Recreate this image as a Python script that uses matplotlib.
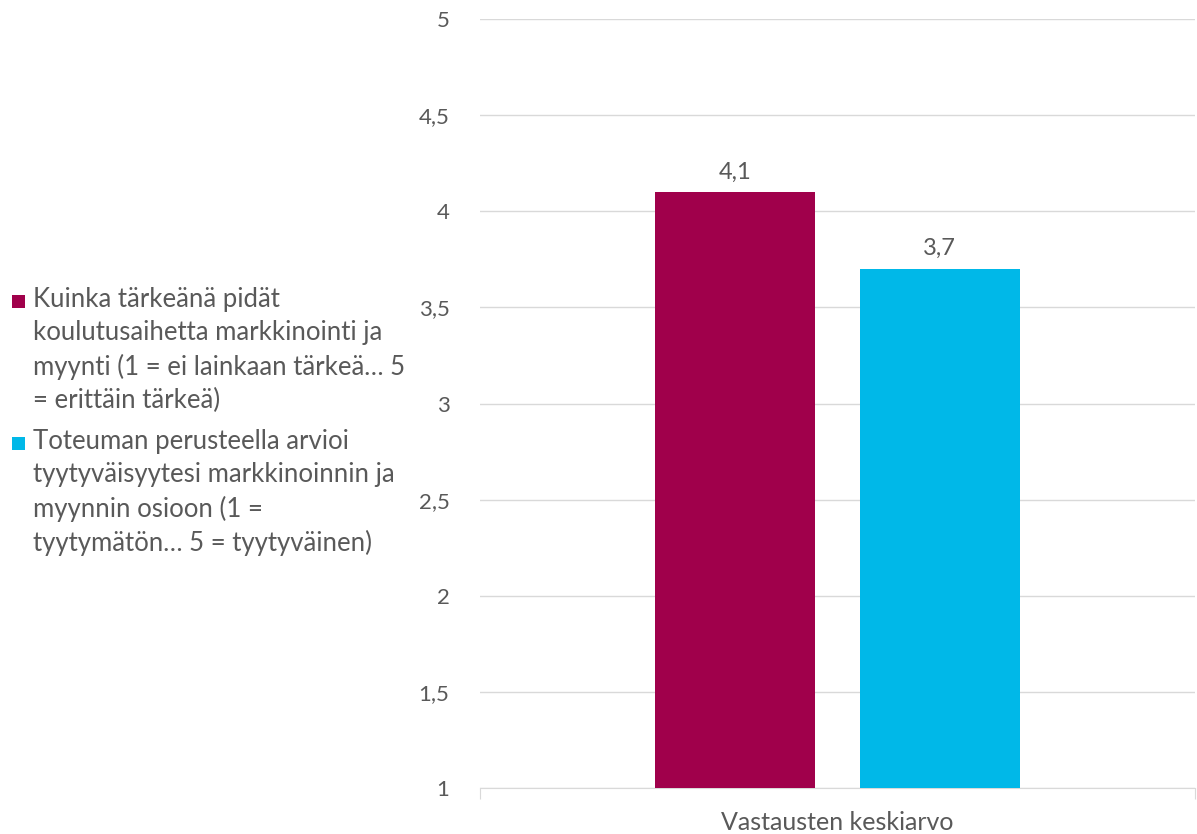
import matplotlib
matplotlib.use("Agg")
from matplotlib import pyplot as plt
from matplotlib.patches import Rectangle

# chart data
category = "Vastausten keskiarvo"
series_labels = [
    "Kuinka tärkeänä pidät\nkoulutusaihetta markkinointi ja\nmyynti (1 = ei lainkaan tärkeä… 5\n= erittäin tärkeä)",
    "Toteuman perusteella arvioi\ntyytyväisyytesi markkinoinnin ja\nmyynnin osioon (1 =\ntyytymätön… 5 = tyytyväinen)",
]
values = [4.1, 3.7]
colors = ["#A0004B", "#00B8E8"]
yticks = [1, 1.5, 2, 2.5, 3, 3.5, 4, 4.5, 5]

plt.rcParams['font.family'] = ['Lato', 'DejaVu Sans']
text_color = "#595959"

W, H = 1197, 834
fig = plt.figure(figsize=(W / 100, H / 100), dpi=100)
ax = fig.add_axes([480 / W, 1 - 788 / H, 715 / W, 769 / H])

width = 0.224
offsets = [-0.143, 0.143]
for v, c, off in zip(values, colors, offsets):
    ax.bar(off, v - 1, width=width, bottom=1, color=c, zorder=3)
    ax.text(off, v + 0.05, f"{v:.1f}".replace(".", ","), ha="center", va="bottom",
            fontsize=17, color=text_color)

ax.set_xlim(-0.5, 0.5)
ax.set_ylim(1, 5)
ax.set_yticks(yticks)
ax.set_yticklabels([f"{t:g}".replace(".", ",") for t in yticks])
ax.grid(axis="y", color="#D9D9D9", linewidth=1, zorder=0)
ax.tick_params(axis="y", length=0, pad=22, labelsize=16, labelcolor=text_color)
ax.set_xticks([-0.5, 0.5])
ax.set_xticklabels([])
ax.tick_params(axis="x", length=8, color="#D9D9D9", direction="out")
for s in ["top", "right", "left"]:
    ax.spines[s].set_visible(False)
ax.spines["bottom"].set_color("#D9D9D9")
ax.text(0, -34 / 769, category, transform=ax.get_xaxis_transform(), ha="center",
        va="center", fontsize=18, color=text_color)

# legend drawn by hand so the square sits on the first line of each entry
for lab, c, top in zip(series_labels, colors, [287, 429]):
    fig.patches.append(Rectangle((12 / W, 1 - (top + 21) / H), 13 / W, 13 / H,
                                 transform=fig.transFigure, facecolor=c,
                                 edgecolor="none"))
    fig.text(33 / W, 1 - top / H, lab, ha="left", va="top", fontsize=18.5,
             color=text_color, linespacing=1.4)

fig.savefig("out.png", dpi=100)
